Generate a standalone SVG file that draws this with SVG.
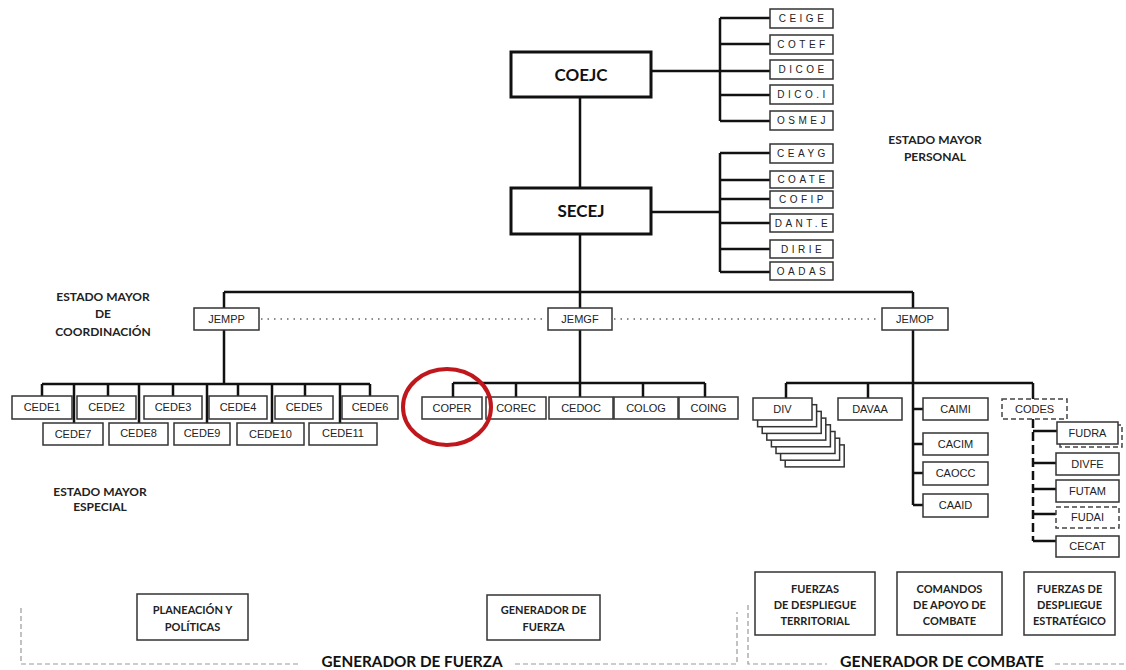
<svg xmlns="http://www.w3.org/2000/svg" width="1126" height="670" viewBox="0 0 1126 670">
<style>
.bg{fill:#fff}
.box{fill:#fff;stroke:#333;stroke-width:1.5}
.big{fill:#fff;stroke:#111;stroke-width:3}
.dbox{fill:#fff;stroke:#444;stroke-width:1.5;stroke-dasharray:5 3}
.ln{stroke:#111;stroke-width:2.5;fill:none}
.dl{stroke:#111;stroke-width:2.5;fill:none;stroke-dasharray:9 4}
.dot{stroke:#666;stroke-width:1.6;stroke-dasharray:1.5 5;fill:none}
.dash{stroke:#999;stroke-width:1.2;stroke-dasharray:5 3;fill:none}
.t{font-family:"Liberation Sans",Arial,sans-serif;font-size:11px;fill:#222;text-anchor:middle}
.ts{font-family:"Liberation Sans",Arial,sans-serif;font-size:10px;fill:#222;text-anchor:middle;letter-spacing:3.5px}
.h{font-family:Lato,"Liberation Sans",sans-serif;font-weight:700;font-size:11px;fill:#222;text-anchor:middle}
.hl{font-family:Lato,"Liberation Sans",sans-serif;font-weight:700;font-size:12px;fill:#222;text-anchor:middle}
.hb{font-family:Lato,"Liberation Sans",sans-serif;font-weight:700;font-size:17px;fill:#111;text-anchor:middle}
.hg{font-family:Lato,"Liberation Sans",sans-serif;font-weight:700;font-size:16px;fill:#111;text-anchor:middle}
</style>
<rect class="bg" x="0" y="0" width="1126" height="670"/>

<g id="connectors">
<path class="ln" d="M580,97 V188 M651,71 H770 M720,18 V121 M720,18 H770 M720,44 H770 M720,95 H770 M720,121 H770"/>
<path class="ln" d="M651,212 H720 M720,153 V272 M720,153 H770 M720,180 H770 M720,199 H770 M720,223 H770 M720,249 H770 M720,272 H770"/>
<path class="ln" d="M580,234 V292 M224,292 H913 M224,292 V308 M580,292 V308 M913,292 V308"/>
<path class="dot" d="M261,319 H546 M614,319 H880"/>
<path class="ln" d="M224,330 V384 M42,384 H370 M42,384 V396 M74,384 V423 M108,384 V396 M139,384 V423 M173,384 V396 M207,384 V423 M238,384 V396 M272,384 V423 M305,384 V396 M340,384 V423 M370,384 V396"/>
<path class="ln" d="M580,330 V383 M453,383 H705 M453,383 V397 M516,383 V397 M580,383 V397 M643,383 V397 M705,383 V397"/>
<path class="ln" d="M913,330 V505 M786,383 H1033 M786,383 V398 M868,383 V398 M1033,383 V399 M913,409 H923 M913,444 H923 M913,473 H923 M913,505 H923"/>
<path class="dl" d="M1033,419 V541"/>
<path class="ln" d="M1033,431 H1057 M1033,463 H1056 M1033,489 H1056 M1033,514 H1056 M1033,541 H1056"/>
</g>

<g id="COEJC"><rect class="big" x="511" y="52" width="140" height="45"/><text class="hb" x="581" y="81">COEJC</text></g>
<g id="SECEJ"><rect class="big" x="511" y="188" width="140" height="46"/><text class="hb" x="581" y="217">SECEJ</text></g>

<g id="CEIGE"><rect class="box" x="770" y="9" width="63" height="19"/><text class="ts" x="803" y="22">CEIGE</text></g>
<g id="COTEF"><rect class="box" x="770" y="35" width="63" height="19"/><text class="ts" x="803" y="48">COTEF</text></g>
<g id="DICOE"><rect class="box" x="770" y="60" width="63" height="19"/><text class="ts" x="803" y="73">DICOE</text></g>
<g id="DICOI"><rect class="box" x="770" y="85" width="63" height="19"/><text class="ts" x="803" y="98">DICO.I</text></g>
<g id="OSMEJ"><rect class="box" x="770" y="111" width="63" height="19"/><text class="ts" x="803" y="124">OSMEJ</text></g>
<g id="CEAYG"><rect class="box" x="770" y="144" width="63" height="19"/><text class="ts" x="803" y="157">CEAYG</text></g>
<g id="COATE"><rect class="box" x="770" y="171" width="63" height="17"/><text class="ts" x="803" y="183">COATE</text></g>
<g id="COFIP"><rect class="box" x="770" y="191" width="63" height="17"/><text class="ts" x="803" y="203">COFIP</text></g>
<g id="DANTE"><rect class="box" x="770" y="214" width="63" height="18"/><text class="ts" x="803" y="227">DANT.E</text></g>
<g id="DIRIE"><rect class="box" x="770" y="240" width="63" height="18"/><text class="ts" x="803" y="253">DIRIE</text></g>
<g id="OADAS"><rect class="box" x="770" y="262" width="63" height="18"/><text class="ts" x="803" y="275">OADAS</text></g>

<g id="JEMPP"><rect class="box" x="194" y="308" width="65" height="22"/><text class="t" x="226.5" y="323">JEMPP</text></g>
<g id="JEMGF"><rect class="box" x="548" y="308" width="64" height="22"/><text class="t" x="580" y="323">JEMGF</text></g>
<g id="JEMOP"><rect class="box" x="882" y="308" width="66" height="22"/><text class="t" x="915" y="323">JEMOP</text></g>

<g id="CEDE1"><rect class="box" x="12" y="396" width="60" height="23"/><text class="t" x="42" y="411">CEDE1</text></g>
<g id="CEDE2"><rect class="box" x="77" y="396" width="59" height="23"/><text class="t" x="106.5" y="411">CEDE2</text></g>
<g id="CEDE3"><rect class="box" x="144" y="396" width="58" height="23"/><text class="t" x="173" y="411">CEDE3</text></g>
<g id="CEDE4"><rect class="box" x="209" y="396" width="58" height="23"/><text class="t" x="238" y="411">CEDE4</text></g>
<g id="CEDE5"><rect class="box" x="275" y="396" width="58" height="23"/><text class="t" x="304" y="411">CEDE5</text></g>
<g id="CEDE6"><rect class="box" x="342" y="396" width="56" height="23"/><text class="t" x="370" y="411">CEDE6</text></g>
<g id="CEDE7"><rect class="box" x="43" y="423" width="60" height="22"/><text class="t" x="73" y="438">CEDE7</text></g>
<g id="CEDE8"><rect class="box" x="109" y="423" width="59" height="22"/><text class="t" x="138.5" y="437">CEDE8</text></g>
<g id="CEDE9"><rect class="box" x="174" y="423" width="56" height="22"/><text class="t" x="202" y="437">CEDE9</text></g>
<g id="CEDE10"><rect class="box" x="237" y="423" width="67" height="22"/><text class="t" x="270.5" y="438">CEDE10</text></g>
<g id="CEDE11"><rect class="box" x="309" y="423" width="68" height="22"/><text class="t" x="343" y="437">CEDE11</text></g>

<g id="COPER"><rect class="box" x="422" y="397" width="60" height="22"/><text class="t" x="452" y="412">COPER</text></g>
<g id="COREC"><rect class="box" x="486" y="397" width="60" height="22"/><text class="t" x="516" y="412">COREC</text></g>
<g id="CEDOC"><rect class="box" x="549" y="397" width="64" height="22"/><text class="t" x="581" y="412">CEDOC</text></g>
<g id="COLOG"><rect class="box" x="614" y="397" width="64" height="22"/><text class="t" x="646" y="412">COLOG</text></g>
<g id="COING"><rect class="box" x="679" y="397" width="59" height="22"/><text class="t" x="708.5" y="412">COING</text></g>

<g id="highlight"><ellipse cx="447" cy="407" rx="44" ry="38" fill="none" stroke="#c0171d" stroke-width="4"/></g>

<g id="DIV">
<rect class="box" x="785.2" y="444.9" width="59" height="22"/>
<rect class="box" x="780.6" y="438.2" width="59" height="22"/>
<rect class="box" x="776" y="431.5" width="59" height="22"/>
<rect class="box" x="771.4" y="424.8" width="59" height="22"/>
<rect class="box" x="766.8" y="418.1" width="59" height="22"/>
<rect class="box" x="762.2" y="411.4" width="59" height="22"/>
<rect class="box" x="757.6" y="404.7" width="59" height="22"/>
<rect class="box" x="753" y="398" width="59" height="22"/>
<text class="t" x="782.5" y="413">DIV</text>
</g>
<g id="DAVAA"><rect class="box" x="838" y="398" width="64" height="22"/><text class="t" x="870" y="413">DAVAA</text></g>
<g id="CAIMI"><rect class="box" x="923" y="398" width="65" height="22"/><text class="t" x="955.5" y="413">CAIMI</text></g>
<g id="CACIM"><rect class="box" x="923" y="433" width="65" height="22"/><text class="t" x="955.5" y="448">CACIM</text></g>
<g id="CAOCC"><rect class="box" x="923" y="462" width="65" height="23"/><text class="t" x="955.5" y="477">CAOCC</text></g>
<g id="CAAID"><rect class="box" x="923" y="494" width="65" height="23"/><text class="t" x="955.5" y="509">CAAID</text></g>

<g id="CODES"><rect class="dbox" x="1002" y="399" width="65" height="20"/><text class="t" x="1034.5" y="413">CODES</text></g>
<g id="FUDRA"><rect class="dbox" x="1060" y="425" width="62" height="22"/><rect class="box" x="1057" y="422" width="61" height="22"/><text class="t" x="1087.5" y="437">FUDRA</text></g>
<g id="DIVFE"><rect class="box" x="1056" y="453" width="63" height="22"/><text class="t" x="1087.5" y="468">DIVFE</text></g>
<g id="FUTAM"><rect class="box" x="1056" y="480" width="63" height="22"/><text class="t" x="1087.5" y="495">FUTAM</text></g>
<g id="FUDAI"><rect class="dbox" x="1056" y="507" width="63" height="21"/><text class="t" x="1087.5" y="521">FUDAI</text></g>
<g id="CECAT"><rect class="box" x="1056" y="536" width="63" height="21"/><text class="t" x="1087.5" y="550">CECAT</text></g>

<g id="label-personal"><text class="hl" x="935" y="144">ESTADO MAYOR</text><text class="hl" x="935" y="161">PERSONAL</text></g>
<g id="label-coordinacion"><text class="hl" x="103" y="301">ESTADO MAYOR</text><text class="hl" x="103" y="318">DE</text><text class="hl" x="103" y="336">COORDINACIÓN</text></g>
<g id="label-especial"><text class="hl" x="100" y="496">ESTADO MAYOR</text><text class="hl" x="100" y="511">ESPECIAL</text></g>

<g id="PLANEACION"><rect class="box" x="137" y="594" width="111" height="46"/><text class="h" x="192.5" y="614">PLANEACIÓN Y</text><text class="h" x="192.5" y="631">POLÍTICAS</text></g>
<g id="GENERADOR"><rect class="box" x="487" y="595" width="113" height="45"/><text class="h" x="543.5" y="614">GENERADOR DE</text><text class="h" x="543.5" y="631">FUERZA</text></g>
<g id="FDT"><rect class="box" x="755" y="572" width="120" height="63"/><text class="h" x="815" y="593">FUERZAS</text><text class="h" x="815" y="609">DE DESPLIEGUE</text><text class="h" x="815" y="625">TERRITORIAL</text></g>
<g id="CAC"><rect class="box" x="897" y="572" width="105" height="63"/><text class="h" x="949.5" y="593">COMANDOS</text><text class="h" x="949.5" y="609">DE APOYO DE</text><text class="h" x="949.5" y="625">COMBATE</text></g>
<g id="FDE"><rect class="box" x="1024" y="572" width="91" height="63"/><text class="h" x="1069.5" y="593">FUERZAS DE</text><text class="h" x="1069.5" y="609">DESPLIEGUE</text><text class="h" x="1069.5" y="625">ESTRATÉGICO</text></g>

<g id="groups">
<path class="dash" d="M21,608 V664 H300 M515,664 H737 V612 M748,605 V664 H827 M1055,664 H1126"/>
<text class="hg" x="412" y="667" textLength="181" lengthAdjust="spacingAndGlyphs">GENERADOR DE FUERZA</text>
<text class="hg" x="942" y="667" textLength="204" lengthAdjust="spacingAndGlyphs">GENERADOR DE COMBATE</text>
</g>
</svg>
